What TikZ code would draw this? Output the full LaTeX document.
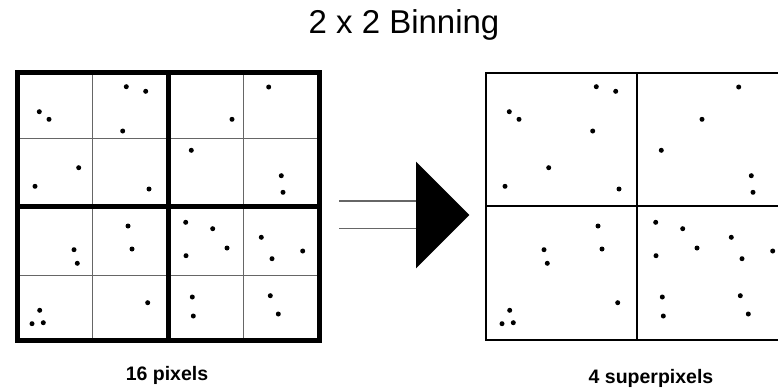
\documentclass[tikz,border=0pt]{standalone}
\usepackage{fontspec}
\setmainfont{Liberation Sans}

\tikzset{
    thickgrid/.style={line width=5pt},
    thingrid/.style={line width=1pt, black!60},
    superbox/.style={line width=2pt},
    feed/.style={line width=1.2pt, black!60},
    photon/.style={fill=black},
}
% positions of the counts, in pixels of the left grid
\newcommand{\photonlist}{39.3/111.7, 49/119.3, 126.3/86.7, 145.7/91.3, 122.7/131, 268.7/87, 232/119.3,
    78.7/167.7, 35/186.3, 149/189, 191.3/150.3, 281.3/175.7, 283/192.3,
    74/249.7, 77.3/263.3, 128/226, 132/249, 185.7/222.3, 212.7/228.7, 227/248, 186/255.7, 261.3/237.3, 302.7/251, 272/258.7,
    147.7/302.7, 39.7/310.3, 32/323.7, 43.3/322.7, 192.3/297, 193.3/316, 270.3/295.7, 278.3/314}

\begin{document}
\begin{tikzpicture}[x=1pt,y=-1pt]
        \clip (0,0) rectangle (778,391);
        \fill[white] (0,0) rectangle (778,391);

        \node[anchor=base, font=\fontsize{33}{40}\selectfont] (title) at (404,33) {2 x 2 Binning};

        % 16 pixels
        \draw[thingrid]
            (92,72.5) -- (92,340)
            (243.5,72.5) -- (243.5,340)
            (17,138) -- (319,138)
            (17,275) -- (319,275)
            ;
        \draw[thickgrid]
            (17,72.5) rectangle (319,340)
            (168,72.5) -- (168,340)
            (17,206) -- (319,206)
            ;
        \foreach \px/\py in \photonlist
            \fill[photon] (\px,\py) circle (2.5pt);

        % 4 superpixels
        \draw[superbox]
            (790,72.5) -- (486,72.5) -- (486,340) -- (790,340)
            (637,72.5) -- (637,340)
            (486,206) -- (790,206)
            ;
        \foreach \px/\py in \photonlist
            \fill[photon] (\px+470,\py) circle (2.5pt);

        % arrow
        \coordinate (tailA) at (339,201);
        \coordinate (tailB) at (339,228.7);
        \coordinate (headA) at (416,201);
        \coordinate (headB) at (416,228.7);
        \draw[feed] (tailA) -- (headA) (tailB) -- (headB);
        \fill (416,161.7) -- (416,268.3) -- (469.3,215) -- cycle;

        \node[anchor=base, font=\fontsize{19.5}{24}\selectfont\bfseries] (pixlabel) at (167,380) {16 pixels};
        \node[anchor=base, font=\fontsize{19.5}{24}\selectfont\bfseries] (superlabel) at (651,383) {4 superpixels};
    \end{tikzpicture}
\end{document}
